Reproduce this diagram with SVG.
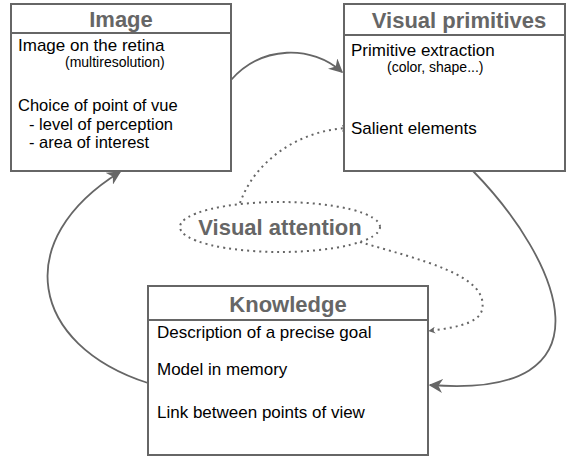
<svg xmlns="http://www.w3.org/2000/svg" width="570" height="457" viewBox="0 0 570 457">
<defs>
<style>
.box{fill:#fff;stroke:#666;stroke-width:2}
.title{font-family:"Liberation Sans",Arial,sans-serif;font-weight:bold;font-size:22px;fill:#666;text-anchor:middle}
.t{font-family:"Liberation Sans",Arial,sans-serif;font-size:17px;fill:#000}
.t2{font-family:"Liberation Sans",Arial,sans-serif;font-size:16.5px;fill:#000}
.s{font-family:"Liberation Sans",Arial,sans-serif;font-size:14px;fill:#000}
.c{fill:none;stroke:#666;stroke-width:1.8}
.d{fill:none;stroke:#666;stroke-width:2;stroke-dasharray:2 4}
</style>
<marker id="ah" viewBox="0 0 10 10" refX="9" refY="5" markerWidth="7" markerHeight="7" markerUnits="userSpaceOnUse" orient="auto">
<path d="M0,0 L10,5 L0,10 L3,5 Z" fill="#666"/>
</marker>
<marker id="ah2" viewBox="0 0 10 10" refX="9" refY="5" markerWidth="14" markerHeight="14" markerUnits="userSpaceOnUse" orient="auto">
<path d="M0,0 L10,5 L0,10 L3,5 Z" fill="#666"/>
</marker>
</defs>
<rect width="570" height="457" fill="#fff"/>
<g id="connectors">
<path class="c" d="M231,80 C262,45 312,45 342,72" marker-end="url(#ah2)"/>
<path class="c" d="M473,171 C560,260 620,400 430,385" marker-end="url(#ah2)"/>
<path class="c" d="M148,383 C30,345 10,240 120,172" marker-end="url(#ah2)"/>
<path class="d" d="M240,203 C255,160 300,130 348,128" marker-end="url(#ah)"/>
<path class="d" d="M360,242 C420,260 490,275 482,310 C478,325 450,328 429,331" marker-end="url(#ah)"/>
</g>
<g id="image">
<rect class="box" x="11" y="4" width="220" height="167"/>
<line class="box" x1="11" y1="33" x2="231" y2="33"/>
<text class="title" x="121" y="27">Image</text>
<text class="t" x="18" y="51">Image on the retina</text>
<text class="s" x="65" y="67">(multiresolution)</text>
<text class="t2" x="18" y="111">Choice of point of vue</text>
<text class="t2" x="29" y="129.5">- level of perception</text>
<text class="t2" x="29" y="148">- area of interest</text>
</g>
<g id="visual-primitives">
<rect class="box" x="344" y="4" width="221" height="167"/>
<line class="box" x1="344" y1="35" x2="565" y2="35"/>
<text class="title" x="459" y="28">Visual primitives</text>
<text class="t" x="351" y="56">Primitive extraction</text>
<text class="s" x="387" y="72">(color, shape...)</text>
<text class="t" x="351" y="134">Salient elements</text>
</g>
<g id="knowledge">
<rect class="box" x="148" y="286" width="280" height="169"/>
<line class="box" x1="148" y1="320" x2="428" y2="320"/>
<text class="title" x="288" y="312">Knowledge</text>
<text class="t" x="157" y="338">Description of a precise goal</text>
<text class="t" x="157" y="375">Model in memory</text>
<text class="t" x="157" y="418">Link between points of view</text>
</g>
<g id="visual-attention">
<ellipse cx="280" cy="227" rx="100" ry="25" fill="#fff" stroke="#666" stroke-width="2" stroke-dasharray="2 4"/>
<text class="title" x="280" y="235">Visual attention</text>
</g>
</svg>
